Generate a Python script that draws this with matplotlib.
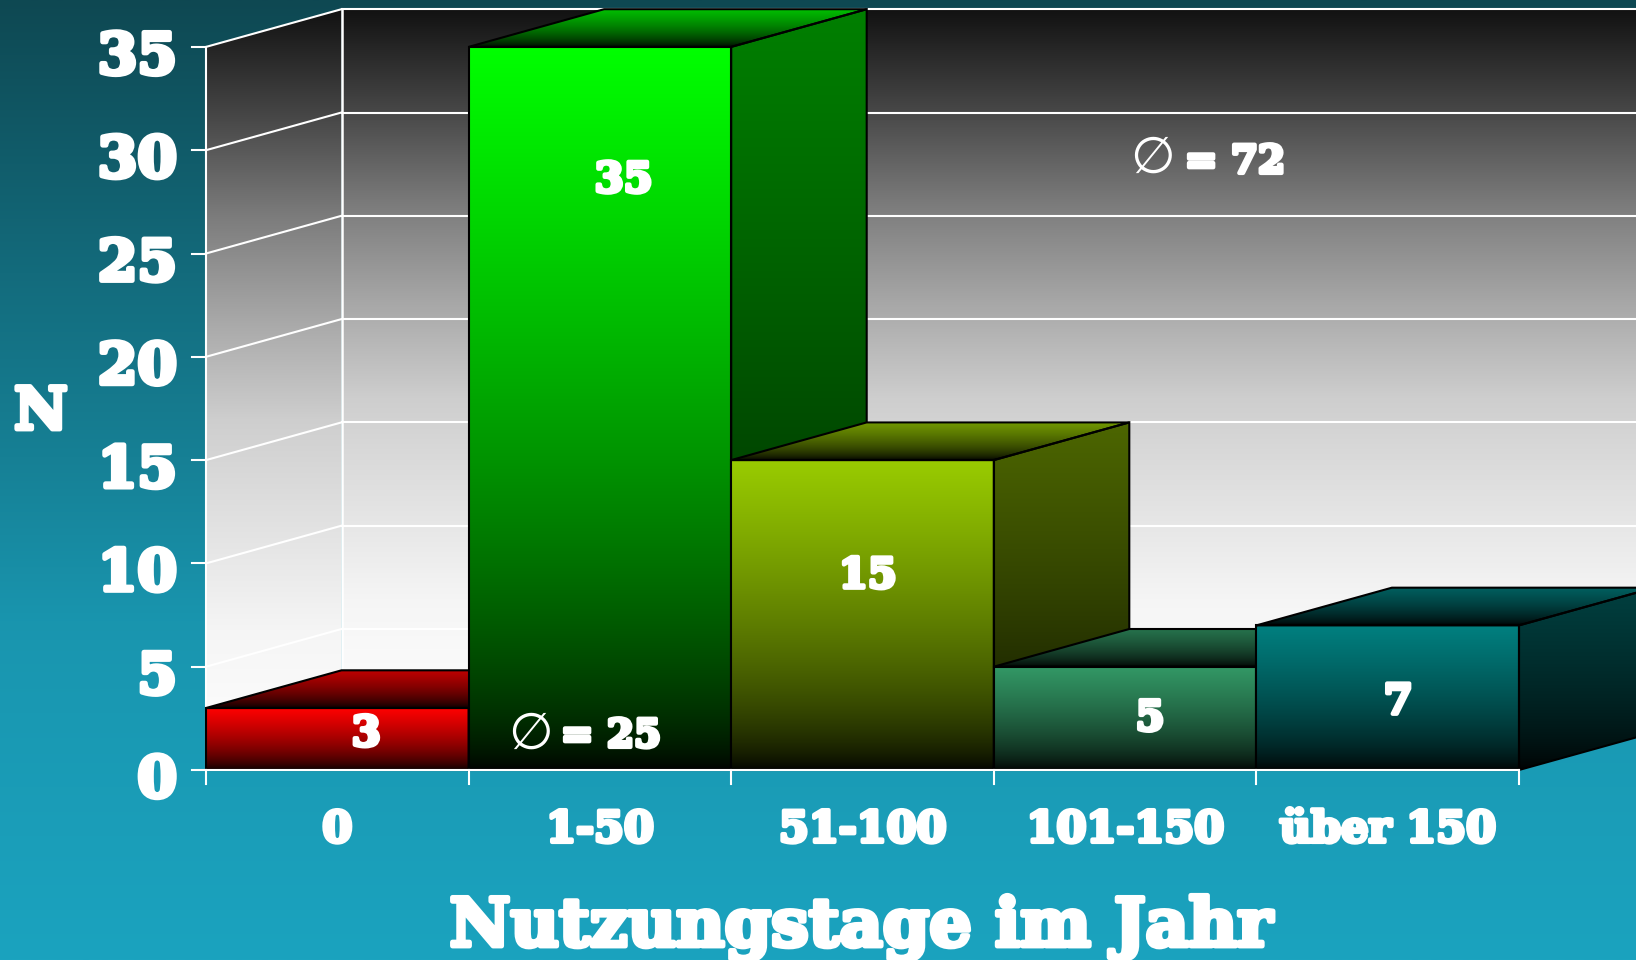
import numpy as np
import matplotlib
matplotlib.use('Agg')
import matplotlib.pyplot as plt
from matplotlib.patches import Polygon
import matplotlib.patheffects as pe

categories = ['0', '1-50', '51-100', '101-150', 'über 150']
values = [3, 35, 15, 5, 7]
bar_colors = ['#ff0000', '#00ff00', '#99cc00', '#339966', '#008080']
y_ticks = [0, 5, 10, 15, 20, 25, 30, 35]
x_label = 'Nutzungstage im Jahr'
y_label = 'N'
mean_texts = ['= 72', '= 25']

W, H = 1636, 960
X0, Y0 = 206, 770      # pixel position of the chart origin
UX, UY = 262.6, 20.66  # pixels for one bar / one unit
DX, DY = 135.5 / UX, 37.7 / UY  # depth of the 3d boxes
XMAX = len(values)
YMAX = 35

# where the labels sit in the bars, offset from bar centre (in bar widths)
label_dx = [0.11, 0.09, 0.02, 0.095, 0.04]
label_y = [1.75, 28.55, 9.4, 2.5, 3.3]


def to_rgb(c):
    return np.array(matplotlib.colors.to_rgb(c))


def fill_grad(ax, pts, top, bottom, z, stops=None):
    # polygon filled with a vertical gradient, clipped with the polygon itself
    pts = np.array(pts)
    t = np.linspace(0, 1, 512)
    if stops is None:
        f = (1 - t) ** 0.65
    else:
        f = np.interp(t, stops[0], stops[1])
    col = bottom + (top - bottom) * f[:, None]
    img = col[:, None, :]
    im = ax.imshow(img, extent=(pts[:, 0].min(), pts[:, 0].max(), pts[:, 1].min(), pts[:, 1].max()),
                   origin='upper', aspect='auto', zorder=z, interpolation='bilinear')
    poly = Polygon(pts, closed=True, transform=ax.transData, facecolor='none', edgecolor='none')
    ax.add_patch(poly)
    im.set_clip_path(poly)


def heavy(ax, x, y, s, size, stroke=3.0, ha='center'):
    ax.text(x, y, s, fontsize=size, color='white', family='DejaVu Serif', weight='bold',
            ha=ha, va='center', zorder=50,
            path_effects=[pe.withStroke(linewidth=stroke, foreground='white')])


fig = plt.figure(figsize=(W / 100, H / 100), dpi=100)
ax = fig.add_axes([0, 0, 1, 1])
ax.axis('off')

# page background
bg_stops = ([0, 0.31, 0.48, 0.65, 1], [0, 0.42, 0.62, 0.85, 1])
fill_grad(ax, [(-X0 / UX, -(H - Y0) / UY), ((W - X0) / UX, -(H - Y0) / UY),
               ((W - X0) / UX, Y0 / UY), (-X0 / UX, Y0 / UY)],
          to_rgb('#1ba3bf'), to_rgb('#0e4852'), 0, stops=bg_stops)

# walls
wall_stops = ([0, 0.137, 0.273, 0.41, 0.54, 0.82, 1], [0, 0.22, 0.45, 0.635, 0.795, 0.96, 1])
white = np.array([1.0, 1.0, 1.0])
dark = np.array([0.067, 0.067, 0.067])
x_right = (W - X0) / UX + 1
fill_grad(ax, [(DX, DY), (x_right, DY), (x_right, YMAX + DY), (DX, YMAX + DY)], white, dark, 1, stops=wall_stops)
fill_grad(ax, [(0, 0), (DX, DY), (DX, YMAX + DY), (0, YMAX)], white, dark, 1, stops=wall_stops)

# grid lines on the walls
for v in y_ticks:
    if v == 0:
        continue
    lw = 1.5
    ax.plot([0, DX], [v, v + DY], color='white', lw=lw, zorder=2)
    ax.plot([DX, x_right], [v + DY, v + DY], color='white', lw=lw, zorder=2)
ax.plot([0, 0], [0, YMAX], color='white', lw=1.5, zorder=2)
ax.plot([DX, DX], [DY, YMAX + DY], color='white', lw=1.8, zorder=2)

# boxes, left to right so that each one hides the side of the one before
z = 3
for i, v in enumerate(values):
    c = to_rgb(bar_colors[i])
    black = np.zeros(3)
    top = [(i, v), (i + 1, v), (i + 1 + DX, v + DY), (i + DX, v + DY)]
    side = [(i + 1, 0), (i + 1 + DX, DY), (i + 1 + DX, v + DY), (i + 1, v)]
    front = [(i, 0), (i + 1, 0), (i + 1, v), (i, v)]
    fill_grad(ax, top, c * 0.75, black, z)
    fill_grad(ax, side, c * 0.5, black, z)
    fill_grad(ax, front, c, black, z)
    for pts in [top, side, front]:
        ax.add_patch(Polygon(pts, closed=True, facecolor='none', edgecolor='black', lw=1.5, zorder=z + 1))
    z = z + 2

# axis lines and ticks
ax.plot([0, XMAX], [0, 0], color='white', lw=1.5, zorder=40)
for i in range(XMAX + 1):
    ax.plot([i, i], [0, -14 / UY], color='white', lw=1.5, zorder=40)
for v in y_ticks:
    ax.plot([-14 / UX, 0], [v, v], color='white', lw=1.5, zorder=40)
    heavy(ax, -29 / UX, v - 11 / UY, str(v), 41, stroke=3.5, ha='right')

for i, cat in enumerate(categories):
    heavy(ax, i + 0.5, -60 / UY, cat, 31)

for i, v in enumerate(values):
    heavy(ax, i + 0.5 + label_dx[i], label_y[i], str(v), 30)

# mean values, the sign is thin in the original
ax.text((1152 - X0) / UX, (Y0 - 159) / UY, '\u2205', fontsize=37, color='white', family='DejaVu Sans',
        ha='center', va='center', zorder=50)
heavy(ax, (1235 - X0) / UX, (Y0 - 162) / UY, mean_texts[0], 28)
ax.text((530 - X0) / UX, (Y0 - 735) / UY, '\u2205', fontsize=37, color='white', family='DejaVu Sans',
        ha='center', va='center', zorder=50)
heavy(ax, (611 - X0) / UX, (Y0 - 736) / UY, mean_texts[1], 28)

heavy(ax, (861 - X0) / UX, (Y0 - 928) / UY, x_label, 48, stroke=3.5)
heavy(ax, (41 - X0) / UX, (Y0 - 413) / UY, y_label, 42, stroke=3.5)

ax.set_xlim(-X0 / UX, (W - X0) / UX)
ax.set_ylim(-(H - Y0) / UY, Y0 / UY)

fig.savefig('out.png', dpi=100)
